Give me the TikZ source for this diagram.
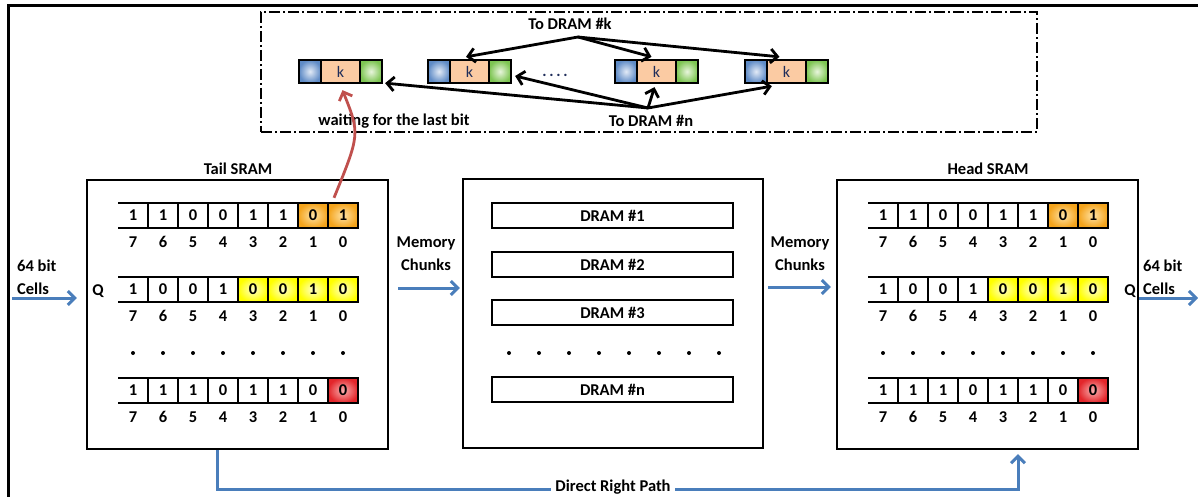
\documentclass[tikz,border=0pt]{standalone}
\usepackage{fontspec}
\setmainfont{Carlito}
\usetikzlibrary{arrows.meta,calc}

\definecolor{flowblue}{HTML}{4A7EBB}
\definecolor{linkred}{HTML}{C0504D}
\definecolor{navy}{HTML}{1F2D5A}
\definecolor{orgout}{HTML}{F4A41C}
\definecolor{orgin}{HTML}{FFE3A6}
\definecolor{yelout}{HTML}{FFFF00}
\definecolor{yelin}{HTML}{FFFFC8}
\definecolor{redout}{HTML}{E3262B}
\definecolor{redin}{HTML}{F8B0B0}
\definecolor{pblueout}{HTML}{5F8BC6}
\definecolor{pbluein}{HTML}{E2EAF6}
\definecolor{peach}{HTML}{FBCBA3}
\definecolor{pgreenout}{HTML}{7DC552}
\definecolor{pgreenin}{HTML}{E8F5DC}

\tikzset{
  txt/.style={font=\bfseries\fontsize{16.5}{19}\selectfont, inner sep=0pt},
  twoline/.style={inner sep=0pt, align=#1, font=\bfseries\fontsize{16.5}{23}\selectfont},
  sram/.style={draw, line width=2.2pt, minimum width=301pt, minimum height=269pt, inner sep=0pt},
  cell/.style={txt, minimum width=30pt, minimum height=25pt},
  idx/.style={txt},
  rowline/.style={line width=2.3pt, line join=miter},
  cnone/.style={},
  corange/.style={shade, inner color=orgin, outer color=orgout},
  cyellow/.style={shade, inner color=yelin, outer color=yelout},
  cred/.style={shade, inner color=redin, outer color=redout},
  drambar/.style={txt, draw, line width=2.2pt, minimum width=241pt, minimum height=25pt},
  flow/.style={draw=flowblue, line width=3pt, -{Straight Barb[length=7pt,width=14pt]}},
  blk/.style={draw=black, line width=2.8pt, -{Straight Barb[length=7pt,width=14pt]}},
  redarrow/.style={draw=linkred, line width=2.8pt, -{Straight Barb[length=7pt,width=14pt]}},
  dotmark/.style={circle, fill=black, inner sep=0pt, minimum size=4pt},
  seg/.style={draw, line width=2.3pt, minimum height=23pt, inner sep=0pt},
  holdbox/.style={draw, line width=1.8pt, dash pattern=on 11pt off 3pt on 2pt off 3pt,
    minimum width=776pt, minimum height=120pt, inner sep=0pt},
}

% one row of eight bit cells: name, left x, top y, value/style list
\newcommand{\bitrow}[4]{%
  \foreach \v/\s [count=\i from 0] in {#4} {
    \pgfmathtruncatemacro{\bitno}{7-\i}
    \node[cell,\s] (#1c\bitno) at ({#2+15+30*\i},{#3+12.5}) {\v};
    \node[idx] (#1n\bitno) at ({#2+15+30*\i},{#3+39}) {\bitno};
  }
  \draw[rowline] (#2,#3) -- ({#2+240},#3) -- ({#2+240},{#3+25}) -- (#2,{#3+25});
  \foreach \k in {1,...,7} \draw[rowline] ({#2+30*\k},#3) -- ({#2+30*\k},{#3+25});
}

% one queued chunk: name, left x
\newcommand{\chunk}[2]{%
  \node[seg, minimum width=22pt, shade, inner color=pbluein, outer color=pblueout] (#1b) at ({#2+11},71.5) {};
  \node[seg, minimum width=39pt, fill=peach, text=navy, font=\fontsize{16}{18}\selectfont] (#1k) at ({#2+41.5},71.5) {k};
  \node[seg, minimum width=22pt, shade, inner color=pgreenin, outer color=pgreenout] (#1g) at ({#2+72},71.5) {};
}

\begin{document}
\begin{tikzpicture}[x=1pt,y=-1pt]
\useasboundingbox (0,0) rectangle (1198,497);

% outer frame
\draw[line width=3pt] (8,497) -- (8,6) -- (1198,6);

% ---------------- chunks waiting to be written ----------------
\node[holdbox] (hold) at (649,72) {};
\node[txt] (tok) at (570,24) {To DRAM \#k};
\node[txt] (ton) at (651,121) {To DRAM \#n};
\node[txt] (wait) at (394,121) {waiting for the last bit};
\chunk{pa}{299}
\chunk{pb}{428}
\chunk{pc}{615}
\chunk{pd}{745}
\node[text=navy, font=\bfseries\fontsize{16}{18}\selectfont, inner sep=0pt] (gap) at (555,75) {.\,.\,.\,.};

\coordinate (ksrc) at (578,37);
\coordinate (nsrc) at (648,108);
\draw[blk] (ksrc) -- ($(pbk.north)+(-3.5,-2)$);
\draw[blk] (ksrc) -- ($(pck.north)+(-5,-2)$);
\draw[blk] (ksrc) -- ($(pdk.north)+(-7,-2)$);
\draw[blk] (nsrc) -- ($(pag.south east)+(2,-1)$);
\draw[blk] (nsrc) -- ($(pbg.east)+(3,4.5)$);
\draw[blk] (nsrc) -- ($(pck.south)+(-2,3)$);
\draw[blk] (nsrc) -- ($(pdk.south west)+(6,2)$);

% ---------------- tail SRAM ----------------
\node[sram] (tail) at (237.5,314.5) {};
\node[txt] (taillbl) at (238,169) {Tail SRAM};
\bitrow{ta}{118}{203}{1/cnone,1/cnone,0/cnone,0/cnone,1/cnone,1/cnone,0/corange,1/corange}
\bitrow{tb}{118}{277}{1/cnone,0/cnone,0/cnone,1/cnone,0/cyellow,0/cyellow,1/cyellow,0/cyellow}
\bitrow{tn}{118}{378}{1/cnone,1/cnone,1/cnone,0/cnone,1/cnone,1/cnone,0/cnone,0/cred}
\foreach \i in {0,...,7} \node[dotmark] (td\i) at ({133+30*\i},353) {};
\node[txt] (tq) at (98,291) {Q};

% ---------------- DRAM bank ----------------
\node[sram, minimum width=300pt] (dram) at (613,313.5) {};
\node[drambar] (d1) at (612.5,215.5) {DRAM \#1};
\node[drambar] (d2) at (612.5,264.5) {DRAM \#2};
\node[drambar] (d3) at (612.5,312.5) {DRAM \#3};
\node[drambar] (dn) at (612.5,389.5) {DRAM \#n};
\foreach \i in {0,...,7} \node[dotmark] (dd\i) at ({509+30*\i},353) {};

% ---------------- head SRAM ----------------
\node[sram] (head) at (987.5,314.5) {};
\node[txt] (headlbl) at (988,169) {Head SRAM};
\bitrow{ha}{868}{203}{1/cnone,1/cnone,0/cnone,0/cnone,1/cnone,1/cnone,0/corange,1/corange}
\bitrow{hb}{868}{277}{1/cnone,0/cnone,0/cnone,1/cnone,0/cyellow,0/cyellow,1/cyellow,0/cyellow}
\bitrow{hn}{868}{378}{1/cnone,1/cnone,1/cnone,0/cnone,1/cnone,1/cnone,0/cnone,0/cred}
\foreach \i in {0,...,7} \node[dotmark] (hd\i) at ({883+30*\i},353) {};
\node[txt] (hq) at (1130,291) {Q};

% ---------------- flow labels and arrows ----------------
\node[twoline=left, anchor=west] (inlbl) at (17,277) {64 bit\\Cells};
\node[twoline=center] (mc1) at (426,254) {Memory\\Chunks};
\node[twoline=center] (mc2) at (800,254) {Memory\\Chunks};
\node[twoline=left, anchor=west] (outlbl) at (1143,277) {64 bit\\Cells};

\coordinate (inL) at (12,298);
\coordinate (outR) at (1198,298);
\coordinate (m1) at (0,288);
\coordinate (m2) at (0,287);
\draw[flow, shorten >=9pt] (inL) -- (tail.west |- inL);
\draw[flow, shorten <=9pt, shorten >=2pt] (tail.east |- m1) -- (dram.west |- m1);
\draw[flow, shorten <=4pt, shorten >=5pt] (dram.east |- m2) -- (head.west |- m2);
\draw[flow] (head.east |- outR) -- (outR);

% bypass from tail to head
\draw[flow] ($(tail.south)+(-20.5,0)$) -- ++(0,39) -| ($(head.south)+(30.5,4)$);
\node[txt, fill=white, inner xsep=4pt, inner ysep=3pt] (drp) at (613,487) {Direct Right Path};

% last bit of the chunk still missing
\draw[redarrow] ($(tac0.north)+(-9,-5)$) .. controls (360,134) .. ($(pak.south)+(2,6)$);
\end{tikzpicture}
\end{document}
